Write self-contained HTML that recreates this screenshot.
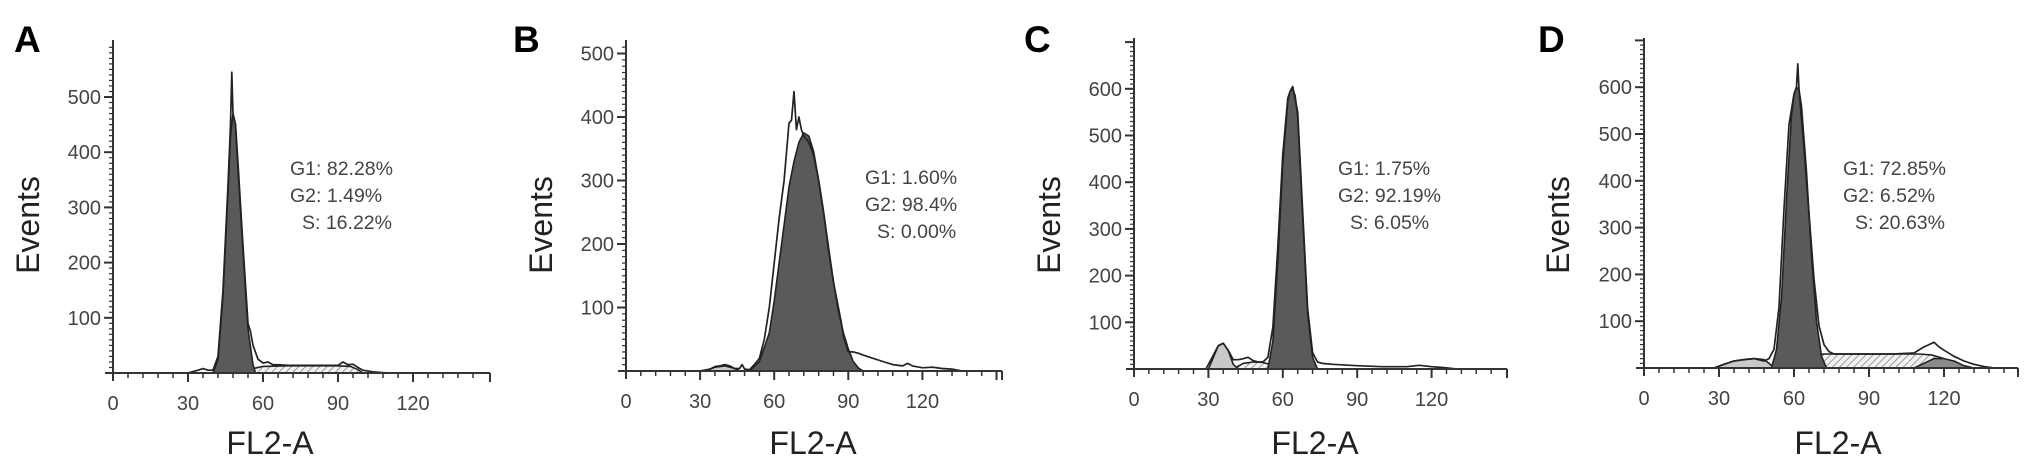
<!DOCTYPE html>
<html><head><meta charset="utf-8"><style>
html,body{margin:0;padding:0;background:#fff;}
svg{display:block;font-family:"Liberation Sans",Arial,sans-serif;}
</style></head><body>
<svg id="fig" width="2031" height="469" viewBox="0 0 2031 469">
<defs>
<pattern id="hatch" patternUnits="userSpaceOnUse" width="5" height="5" patternTransform="rotate(45)">
<rect width="5" height="5" fill="#f2f2f2"/><line x1="0" y1="0" x2="0" y2="5" stroke="#777" stroke-width="1.4"/>
</pattern>
</defs>
</svg>
<script>
// ---- data (x = FL2-A channel, y = events) ----
const xTickLabels = [0, 30, 60, 90, 120];
const panelLetters = ["A", "B", "C", "D"];
const statsA = ["G1: 82.28%", "G2: 1.49%", "S: 16.22%"];
const statsB = ["G1: 1.60%", "G2: 98.4%", "S: 0.00%"];
const statsC = ["G1: 1.75%", "G2: 92.19%", "S: 6.05%"];
const statsD = ["G1: 72.85%", "G2: 6.52%", "S: 20.63%"];
const yTicksA = [100, 200, 300, 400, 500];
const yTicksB = [100, 200, 300, 400, 500];
const yTicksC = [100, 200, 300, 400, 500, 600];
const yTicksD = [100, 200, 300, 400, 500, 600];

const A_outlineX = [30,34,36,38,40,42,44,46,47,47.5,48,49,50,52,54,55,56,58,60,62,64,66,70,80,90,92,94,96,98,100,104,110];
const A_outlineY = [0,5,8,5,5,30,150,340,450,545,470,450,380,230,90,75,50,25,18,20,15,15,14,14,14,20,15,16,10,5,2,0];
const A_darkX = [40,42,44,46,47,48,49,50,52,54,56,57];
const A_darkY = [0,25,140,330,430,470,450,370,220,80,15,0];
const A_hatchX = [50,56,60,70,80,90,95,98,100];
const A_hatchY = [0,8,12,13,13,13,12,6,0];
const A_lightX = [];
const A_lightY = [];

const B_outlineX = [30,34,36,38,40,42,44,46,47,48,50,52,54,56,58,60,62,64,66,67,68,69,70,71,72,74,76,78,80,82,84,86,87,88,90,92,94,96,100,104,108,112,114,116,120,124,128,132,136];
const B_outlineY = [0,3,7,8,10,8,4,4,10,3,2,10,20,50,100,170,240,300,390,395,440,380,400,380,370,360,340,300,250,195,140,100,80,55,30,30,28,25,20,15,10,8,12,8,5,6,4,3,0];
const B_darkX = [50,54,58,60,62,64,66,68,70,72,74,76,78,80,82,84,86,88,90,92,94,96];
const B_darkY = [0,15,60,110,170,230,290,330,360,375,370,345,300,250,190,140,95,60,35,15,5,0];
const B_hatchX = [];
const B_hatchY = [];
const B_lightX = [32,36,40,44,46];
const B_lightY = [0,6,8,4,0];

const C_outlineX = [29,32,34,36,38,40,42,44,46,48,50,52,54,56,58,60,62,63,64,66,68,70,72,74,76,80,90,100,110,115,120,125,130];
const C_outlineY = [0,30,50,55,40,20,20,22,25,18,15,15,25,90,260,460,580,595,605,550,340,130,35,15,12,10,7,5,5,8,5,3,0];
const C_darkX = [54,56,58,60,62,63,64,65,66,68,70,72,74];
const C_darkY = [0,60,230,440,575,595,600,585,540,330,120,25,0];
const C_hatchX = [40,44,48,52,56,60];
const C_hatchY = [0,12,15,14,8,0];
const C_lightX = [30,32,34,36,38,40,42];
const C_lightY = [0,25,50,55,40,10,0];

const D_outlineX = [28,32,36,40,44,48,50,52,54,56,58,60,61,61.5,62,64,66,68,70,72,74,76,80,90,100,108,112,114,116,118,120,124,128,132,136,140];
const D_outlineY = [0,8,15,18,20,15,20,40,130,340,520,585,600,650,595,470,330,190,90,50,35,30,30,30,30,32,45,50,55,45,38,25,15,8,3,0];
const D_darkX = [51,53,55,57,59,60,61,62,63,65,67,69,71,73];
const D_darkY = [0,40,150,360,540,585,600,595,560,420,240,100,25,0];
const D_hatchX = [56,60,64,68,72,80,90,100,110,115,120,124,126];
const D_hatchY = [0,10,20,27,30,30,30,30,30,28,20,8,0];
const D_lightX = [28,32,36,40,44,48,50,52];
const D_lightY = [0,8,15,18,20,18,10,0];
const D_g2X = [108,112,116,120,124,128,132];
const D_g2Y = [0,10,20,20,15,5,0];

const svg = document.getElementById('fig');
const NS = 'http://www.w3.org/2000/svg';
function mk(tag, attrs, parent){ const e=document.createElementNS(NS,tag); for(const k in attrs) e.setAttribute(k,attrs[k]); (parent||svg).appendChild(e); return e; }

const panels = [
 {key:'a', ox:113, kx:2.5, oy:373, ky:0.552, top:40, end:490, yTicks:yTicksA, stats:statsA, sx:290, sy:168, letter:[14,52], evX:28, flX:270,
  outline:[A_outlineX,A_outlineY], dark:[A_darkX,A_darkY], hatch:[A_hatchX,A_hatchY], light:[A_lightX,A_lightY], g2:null},
 {key:'b', ox:626, kx:2.47, oy:371, ky:0.635, top:40, end:1002, yTicks:yTicksB, stats:statsB, sx:865, sy:177, letter:[513,52], evX:541, flX:813,
  outline:[B_outlineX,B_outlineY], dark:[B_darkX,B_darkY], hatch:[B_hatchX,B_hatchY], light:[B_lightX,B_lightY], g2:null},
 {key:'c', ox:1134, kx:2.48, oy:369, ky:0.467, top:38, end:1507, yTicks:yTicksC, stats:statsC, sx:1338, sy:168, letter:[1024,52], evX:1049, flX:1315,
  outline:[C_outlineX,C_outlineY], dark:[C_darkX,C_darkY], hatch:[C_hatchX,C_hatchY], light:[C_lightX,C_lightY], g2:null},
 {key:'d', ox:1644, kx:2.5, oy:368, ky:0.468, top:38, end:2018, yTicks:yTicksD, stats:statsD, sx:1843, sy:168, letter:[1538,52], evX:1558, flX:1838,
  outline:[D_outlineX,D_outlineY], dark:[D_darkX,D_darkY], hatch:[D_hatchX,D_hatchY], light:[D_lightX,D_lightY], g2:[D_g2X,D_g2Y]}
];

panels.forEach((p,i)=>{
  const g = mk('g',{});
  
  
  const X = v => p.ox + v*p.kx;
  const Y = v => p.oy - v*p.ky;
  function area(arr, fill, name){
    const xs=arr[0], ys=arr[1]; if(!xs.length) return;
    let d='M'+X(xs[0]).toFixed(1)+','+Y(0).toFixed(1);
    for(let j=0;j<xs.length;j++) d+='L'+X(xs[j]).toFixed(1)+','+Y(ys[j]).toFixed(1);
    d+='L'+X(xs[xs.length-1]).toFixed(1)+','+Y(0).toFixed(1)+'Z';
    const e = mk('path',{d:d, fill:fill, stroke:'#222', 'stroke-width':1.6, 'stroke-linejoin':'round'}, g);
    
    
  }
  area(p.hatch,'url(#hatch)','s-phase-fit');
  area(p.light,'#c9c9c9','light-peak-fit');
  if(p.g2) area(p.g2,'#8a8a8a','g2-peak-fit');
  area(p.dark,'#5a5a5a','main-peak-fit');
  {
    const xs=p.outline[0], ys=p.outline[1];
    let d='';
    for(let j=0;j<xs.length;j++) d+=(j?'L':'M')+X(xs[j]).toFixed(1)+','+Y(ys[j]).toFixed(1);
    const e = mk('path',{d:d, fill:'none', stroke:'#222', 'stroke-width':1.7, 'stroke-linejoin':'round'}, g);
    
    
  }
  const ax = mk('g',{stroke:'#333','stroke-width':2}, g);
  
  
  mk('line',{x1:p.ox, y1:p.top, x2:p.ox, y2:p.oy+8}, ax);
  mk('line',{x1:p.ox-8, y1:p.oy, x2:p.end, y2:p.oy}, ax);
  mk('line',{x1:p.end, y1:p.oy, x2:p.end, y2:p.oy+9}, ax);
  for(let v=6; X(v)<p.end-2; v+=6){
    const major = v%30===0;
    mk('line',{x1:X(v), y1:p.oy, x2:X(v), y2:p.oy+(major?9:5), 'stroke-width':major?2:1.5}, ax);
  }
  for(let v=10; Y(v)>p.top+2; v+=10){
    const major = v%100===0;
    mk('line',{x1:p.ox-(major?9:4), y1:Y(v), x2:p.ox, y2:Y(v), 'stroke-width':major?2:1.2}, ax);
  }
  xTickLabels.forEach(v=>{
    const t = mk('text',{x:X(v), y:p.oy+37, 'text-anchor':'middle', 'font-size':20, fill:'#444'}, g);
    t.textContent = v;
    
    
  });
  p.yTicks.forEach(v=>{
    const t = mk('text',{x:p.ox-12, y:Y(v)+7, 'text-anchor':'end', 'font-size':20, fill:'#444'}, g);
    t.textContent = v;
    
    
  });
  const yt = mk('text',{x:0, y:0, transform:'translate('+(p.evX+11)+',225) rotate(-90)', 'text-anchor':'middle', 'font-size':32, fill:'#222'}, g);
  yt.textContent = 'Events';
  
  
  const xt = mk('text',{x:p.flX, y:454, 'text-anchor':'middle', 'font-size':32, fill:'#222'}, g);
  xt.textContent = 'FL2-A';
  
  
  const lt = mk('text',{x:p.letter[0], y:p.letter[1], 'font-size':37, 'font-weight':'bold', fill:'#000'}, g);
  lt.textContent = panelLetters[i];
  
  
  p.stats.forEach((s,k)=>{
    const t = mk('text',{x:p.sx + (k===2?12:0), y:p.sy+7+k*27, 'font-size':19.5, fill:'#444'}, g);
    t.textContent = s;
    
    
  });
});
</script>
</body></html>
